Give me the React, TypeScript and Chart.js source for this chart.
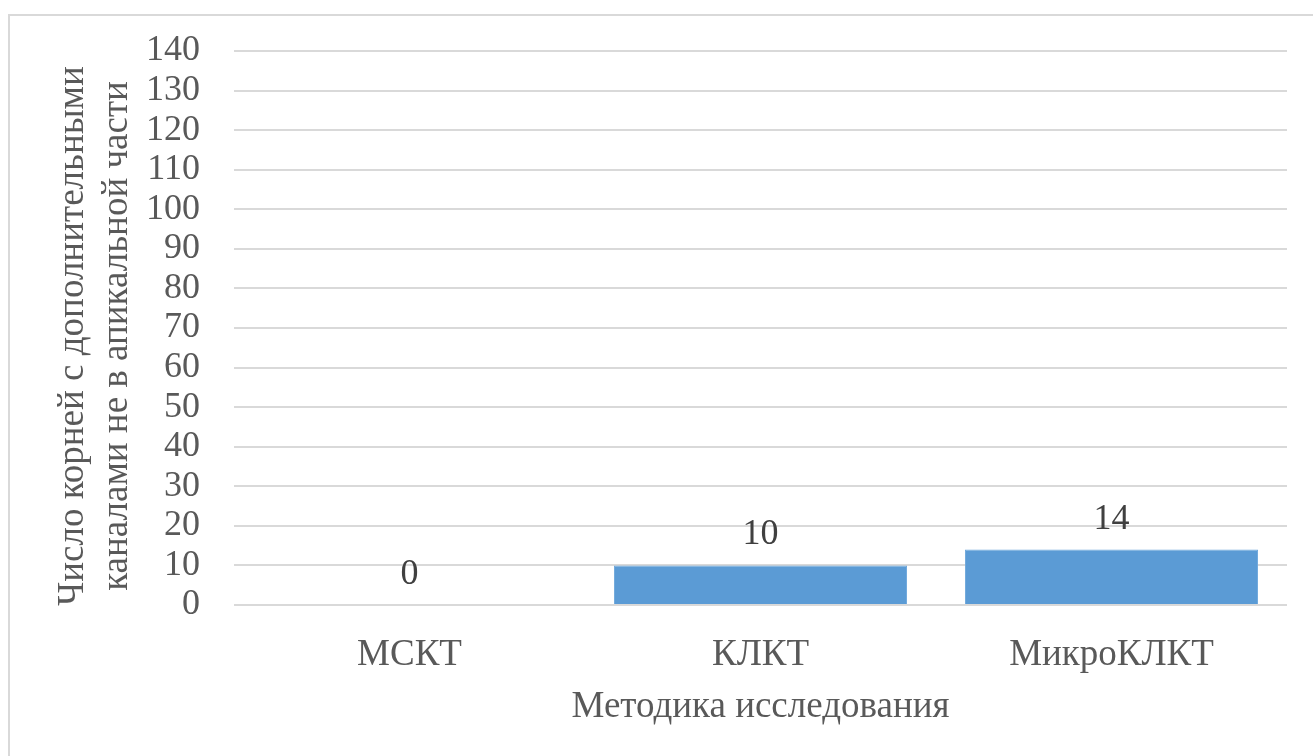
import React, { useEffect, useRef } from "react";
import { Chart, registerables } from "chart.js";

Chart.register(...registerables);

const categories = ["МСКТ", "КЛКТ", "МикроКЛКТ"];
const values = [0, 10, 14];
const yMin = 0;
const yMax = 140;
const yStep = 10;
const yTitleLines = ["Число корней с дополнительными", "каналами не в апикальной части"];
const xTitle = "Методика исследования";

const FONT = "'Liberation Serif', 'Times New Roman', serif";
const TEXT_GRAY = "#595959";
const LABEL_DARK = "#404040";
const BAR_COLOR = "#5B9BD5";
const GRID_COLOR = "#D9D9D9";

const textPlugin = {
  id: "customText",
  afterDatasetsDraw(chart: any) {
    const ctx = chart.ctx;
    const area = chart.chartArea;
    const xScale = chart.scales.x;
    ctx.save();
    ctx.textAlign = "center";
    ctx.textBaseline = "alphabetic";

    // data labels
    ctx.font = `36px ${FONT}`;
    ctx.fillStyle = LABEL_DARK;
    const meta = chart.getDatasetMeta(0);
    meta.data.forEach((bar: any, i: number) => {
      ctx.fillText(String(values[i]), bar.x, bar.y - 21);
    });

    // category labels
    ctx.font = `37px ${FONT}`;
    ctx.fillStyle = TEXT_GRAY;
    categories.forEach((c, i) => {
      ctx.fillText(c, xScale.getPixelForValue(i), area.bottom + 60);
    });

    // x title
    ctx.fillText(xTitle, (area.left + area.right) / 2, area.bottom + 112);

    // y title (rotated)
    const cy = 320;
    const baselines = [73, 117];
    yTitleLines.forEach((line, i) => {
      ctx.save();
      ctx.translate(baselines[i], cy);
      ctx.rotate(-Math.PI / 2);
      ctx.fillText(line, 0, 0);
      ctx.restore();
    });
    ctx.restore();
  },
};

export default function App() {
  const ref = useRef<HTMLCanvasElement | null>(null);

  useEffect(() => {
    if (!ref.current) return;
    const chart = new Chart(ref.current, {
      type: "bar",
      data: {
        labels: categories,
        datasets: [
          {
            data: values,
            backgroundColor: BAR_COLOR,
            borderColor: "#6FA8DC",
            borderWidth: 1,
            barPercentage: 0.835,
            categoryPercentage: 1,
          },
        ],
      },
      options: {
        animation: false,
        responsive: false,
        devicePixelRatio: 1,
        layout: { padding: { top: 35, right: 26, left: 0, bottom: 0 } },
        plugins: {
          legend: { display: false },
          tooltip: { enabled: false },
        },
        scales: {
          x: {
            grid: { display: false, drawTicks: false },
            border: { display: false },
            ticks: { display: false },
            afterFit: (scale: any) => {
              scale.height = 151;
              scale.paddingLeft = 0;
              scale.paddingRight = 0;
            },
          },
          y: {
            min: yMin,
            max: yMax,
            grid: { color: GRID_COLOR, lineWidth: 2, drawTicks: false },
            border: { display: false },
            ticks: {
              stepSize: yStep,
              autoSkip: false,
              padding: 34,
              color: TEXT_GRAY,
              font: { family: FONT, size: 36 },
            },
            afterFit: (scale: any) => {
              scale.width = 224;
              scale.paddingTop = 0;
              scale.paddingBottom = 0;
            },
          },
        },
      },
      plugins: [textPlugin],
    });
    return () => chart.destroy();
  }, []);

  return (
    <div
      style={{
        position: "absolute",
        left: 8,
        top: 14,
        width: 1305,
        height: 742,
        borderLeft: `2px solid ${GRID_COLOR}`,
        borderTop: `2px solid ${GRID_COLOR}`,
        boxSizing: "border-box",
        background: "#fff",
      }}
    >
      <canvas ref={ref} width={1303} height={740} style={{ display: "block", width: 1303, height: 740 }} />
    </div>
  );
}
